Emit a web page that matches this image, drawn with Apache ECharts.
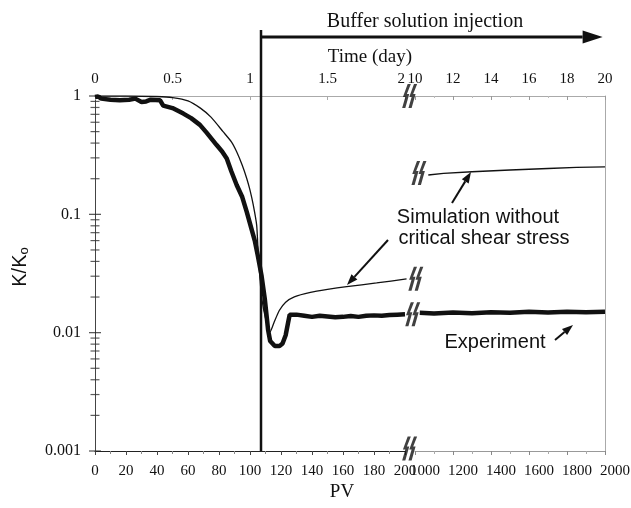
<!DOCTYPE html>
<html>
<head>
<meta charset="utf-8">
<script src="https://cdn.jsdelivr.net/npm/echarts@6/dist/echarts.min.js"></script>
<style>
  html, body { margin: 0; padding: 0; background: #fff; }
  #chart { width: 631px; height: 508px; }
</style>
</head>
<body>
<div id="chart"></div>
<script>
// left segment of the broken PV axis (0-200 PV)
var simLeft = [[0,1.0],[20,1.0],[40,0.99],[50,0.97],[60,0.91],[68,0.79],[75,0.66],[82.6,0.50],[88,0.41],
  [91.4,0.338],[95,0.26],[97.9,0.201],[100,0.16],[102.1,0.12],[104.3,0.081],[105.2,0.05],[106.5,0.028],
  [107.7,0.019],[110.3,0.0128],[113,0.0102],[115.5,0.0122],[118.9,0.0154],[123,0.0181],[128.6,0.0201],
  [139,0.0219],[150,0.0232],[162.4,0.0245],[181.7,0.0263],[201,0.0285]];
var expLeft = [[0,0.98],[2,0.99],[4,0.95],[10,0.93],[16,0.92],[22,0.93],[26,0.95],[30,0.89],[33,0.9],
  [36,0.93],[42,0.92],[44,0.83],[50,0.79],[57,0.71],[62,0.65],[67.7,0.57],[72,0.49],[78.5,0.385],
  [82,0.34],[85,0.297],[88,0.23],[91.4,0.177],[95,0.14],[97.9,0.105],[101,0.075],[103.2,0.059],
  [105,0.045],[107.5,0.030],[109.6,0.019],[111.7,0.0105],[113,0.0085],[116,0.0077],[119,0.0077],
  [121,0.0081],[123,0.0095],[124.5,0.012],[125.6,0.0142],[130,0.0142],[135,0.0139],[140,0.0136],
  [145,0.0139],[150,0.0137],[155,0.0135],[160,0.0136],[165,0.0138],[170,0.0136],[175,0.0139],
  [180,0.014],[185,0.0139],[190,0.0141],[195,0.0142],[200,0.0143]];
// right segment (1000-2000 PV)
var simRight = [[1070,0.215],[1150,0.222],[1300,0.229],[1500,0.237],[1700,0.244],[1850,0.249],[2000,0.252]];
var expRight = [[1025,0.0147],[1100,0.0145],[1200,0.0148],[1300,0.0146],[1400,0.0149],[1500,0.0147],
  [1600,0.015],[1700,0.0148],[1800,0.015],[1900,0.0149],[2000,0.015]];
// buffer injection starts at about 107 PV
var injectPV = 107.1;
var injectTop = 3.62;
var arrowY = 3.15;
var arrowEndPV = 327.5;   // grid 0 coords, lands at the right edge
// axis break marks (grid 0 coords)
var breaks = [[203, 1], [207, 0.0285], [205, 0.0143], [203, 0.00105], [209, 0.223]];
var pvTicksLeft = [0, 200, 20];
var pvTicksRight = [1000, 2000, 200];
var dayTicksLeft = [0, 2, 0.5];
var dayTicksRight = [10, 20, 2];

var yMajor = [], yMinor = [];
[0.001, 0.01, 0.1].forEach(function (d) {
  yMajor.push([0, d]);
  for (var m = 2; m <= 9; m++) yMinor.push([0, +(d * m).toPrecision(2)]);
});
yMajor.push([0, 1]);

var serif = 'Liberation Serif';
var sans = 'Liberation Sans';

function arrow(x1, y1, x2, y2, L, W, lw) {
  L = L || 11; W = W || 4; lw = lw || 2;
  var a = Math.atan2(y2 - y1, x2 - x1);
  var bx = x2 - L * Math.cos(a), by = y2 - L * Math.sin(a);
  return [
    { type: 'line', shape: { x1: x1, y1: y1, x2: bx, y2: by }, style: { stroke: '#111', lineWidth: lw } },
    { type: 'polygon', shape: { points: [[x2, y2],
        [bx + W * Math.sin(a), by - W * Math.cos(a)], [bx - W * Math.sin(a), by + W * Math.cos(a)]] },
      style: { fill: '#111' } }
  ];
}

function label(text, x, y, font) {
  return { type: 'text', x: x, y: y, style: { text: text, font: font, fill: '#111',
    align: 'center', verticalAlign: 'middle' } };
}

var chart = echarts.init(document.getElementById('chart'));
chart.setOption({
  animation: false,
  backgroundColor: '#fff',
  grid: [
    { left: 95, width: 310, top: 96, bottom: 57, outerBoundsMode: 'none' },
    { left: 415, right: 26, top: 96, bottom: 57, outerBoundsMode: 'none' }
  ],
  xAxis: [
    { gridIndex: 0, type: 'value', position: 'bottom', min: pvTicksLeft[0], max: pvTicksLeft[1], interval: pvTicksLeft[2],
      axisLine: { lineStyle: { color: '#222' } }, splitLine: { show: false },
      axisTick: { length: 4, lineStyle: { color: '#444' } },
      minorTick: { show: true, splitNumber: 2, length: 3, lineStyle: { color: '#888' } },
      axisLabel: { fontFamily: serif, fontSize: 15, color: '#111', margin: 13 } },
    { gridIndex: 0, type: 'value', position: 'top', min: dayTicksLeft[0], max: dayTicksLeft[1], interval: dayTicksLeft[2],
      axisLine: { lineStyle: { color: '#aaa' } }, splitLine: { show: false },
      axisTick: { inside: true, length: 4, lineStyle: { color: '#aaa' } },
      axisLabel: { fontFamily: serif, fontSize: 15, color: '#111', margin: 9, alignMaxLabel: 'right' } },
    { gridIndex: 1, type: 'value', position: 'bottom', min: pvTicksRight[0], max: pvTicksRight[1], interval: pvTicksRight[2],
      axisLine: { lineStyle: { color: '#999' } }, splitLine: { show: false },
      axisTick: { length: 4, lineStyle: { color: '#888' } },
      minorTick: { show: true, splitNumber: 2, length: 3, lineStyle: { color: '#aaa' } },
      axisLabel: { fontFamily: serif, fontSize: 15, color: '#111', margin: 13, padding: [0, 0, 0, 20],
        formatter: function (v) { return String(v); } } },
    { gridIndex: 1, type: 'value', position: 'top', min: dayTicksRight[0], max: dayTicksRight[1], interval: dayTicksRight[2],
      axisLine: { lineStyle: { color: '#aaa' } }, splitLine: { show: false },
      axisTick: { inside: true, length: 4, lineStyle: { color: '#999' } },
      minorTick: { show: true, splitNumber: 2, length: 2, lineStyle: { color: '#bbb' } },
      axisLabel: { fontFamily: serif, fontSize: 15, color: '#111', margin: 9 } }
  ],
  yAxis: [
    { gridIndex: 0, type: 'log', logBase: 10, min: 0.001, max: 1,
      axisLine: { show: true, lineStyle: { color: '#444' } }, axisTick: { show: false }, splitLine: { show: false },
      axisLabel: { fontFamily: serif, fontSize: 16, color: '#111', margin: 14,
        formatter: function (v) { return String(+(+v).toPrecision(1)); } } },
    { gridIndex: 1, type: 'log', logBase: 10, min: 0.001, max: 1, position: 'right',
      axisLine: { show: true, lineStyle: { color: '#aaa' } }, axisTick: { show: false },
      axisLabel: { show: false }, splitLine: { show: false } }
  ],
  series: [
    { type: 'line', xAxisIndex: 0, yAxisIndex: 0, data: expLeft, symbol: 'none',
      lineStyle: { color: '#111', width: 4.5 } },
    { type: 'line', xAxisIndex: 0, yAxisIndex: 0, data: simLeft, symbol: 'none', smooth: 0.2,
      lineStyle: { color: '#111', width: 1.3 } },
    { type: 'line', xAxisIndex: 2, yAxisIndex: 1, data: expRight, symbol: 'none',
      lineStyle: { color: '#111', width: 4.5 } },
    { type: 'line', xAxisIndex: 2, yAxisIndex: 1, data: simRight, symbol: 'none',
      lineStyle: { color: '#111', width: 1.3 } },
    { type: 'line', xAxisIndex: 0, yAxisIndex: 0, data: [[injectPV, 0.001], [injectPV, injectTop]],
      symbol: 'none', clip: false, lineStyle: { color: '#111', width: 2.5 } },
    { type: 'scatter', xAxisIndex: 0, yAxisIndex: 0, data: breaks, clip: false, z: 5,
      symbol: 'path://M7,0 L11,0 L6,10 L9,10 L4,24 L0,24 L4,13 L1,13 Z M15,0 L19,0 L14,10 L17,10 L12,24 L8,24 L12,13 L9,13 Z',
      symbolSize: [15, 24], itemStyle: { color: '#111' } },
    { type: 'scatter', xAxisIndex: 0, yAxisIndex: 0, data: yMajor, clip: false, symbol: 'rect',
      symbolSize: [12, 1.2], itemStyle: { color: '#222' } },
    { type: 'scatter', xAxisIndex: 0, yAxisIndex: 0, data: yMinor, clip: false, symbol: 'rect',
      symbolSize: [9, 1.2], itemStyle: { color: '#333' } }
  ]
});

// injection arrow, placed through the axis scales of grid 0
var p0 = chart.convertToPixel({ xAxisIndex: 0, yAxisIndex: 0 }, [injectPV, arrowY]);
var p1 = chart.convertToPixel({ xAxisIndex: 0, yAxisIndex: 0 }, [arrowEndPV, arrowY]);

chart.setOption({
  graphic: [
    label('Buffer solution injection', 425, 22, '20px "Liberation Serif"'),
    label('Time (day)', 370, 57, '19px "Liberation Serif"'),
    label('PV', 342, 492, '19px "Liberation Serif"'),
    { type: 'text', x: 20, y: 267, rotation: Math.PI / 2, style: { text: 'K/K{s|o}', font: '20px "Liberation Sans"',
      fill: '#111', align: 'center', verticalAlign: 'middle',
      rich: { s: { fontSize: 13, fontFamily: sans, verticalAlign: 'bottom', padding: [8, 0, 0, 0] } } } },
    label('Simulation without', 478, 217, '20px "Liberation Sans"'),
    label('critical shear stress', 484, 238, '20px "Liberation Sans"'),
    label('Experiment', 495, 342, '20px "Liberation Sans"')
  ].concat(
    arrow(452, 203, 471, 172), arrow(388, 240, 347, 285), arrow(555, 340, 573, 325),
    arrow(p0[0] - 1, p0[1], p1[0], p1[1], 20, 6.5, 3))
});
</script>
</body>
</html>
